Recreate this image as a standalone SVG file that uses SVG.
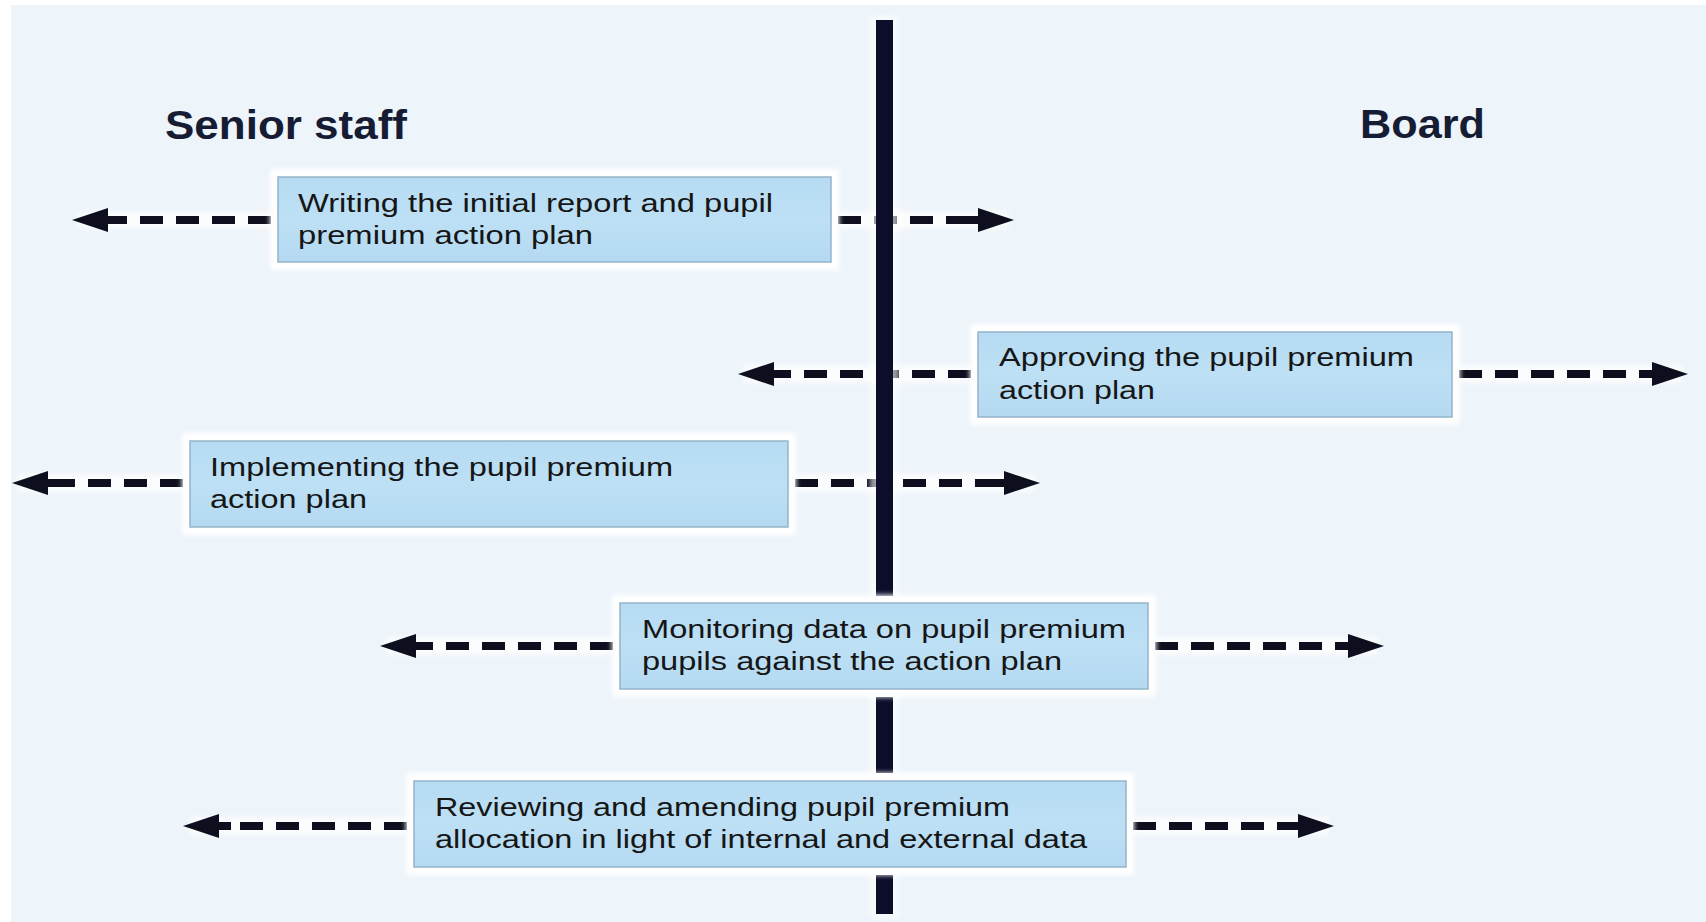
<svg xmlns="http://www.w3.org/2000/svg" xmlns:xlink="http://www.w3.org/1999/xlink" width="1706" height="922" viewBox="0 0 1706 922">
<style>
.title{font-family:"Liberation Sans",Arial,sans-serif;font-weight:bold;font-size:40px;fill:#161c33}
.lbl{font-family:"Liberation Sans",Arial,sans-serif;font-size:25px;fill:#161616}
.box{fill:url(#boxg);stroke:#95b4ca;stroke-width:1.5}
.halo{fill:#ffffff;filter:url(#soft)}
.dash{fill:none;stroke:#0d0f1e;stroke-width:8;stroke-dasharray:23 13}
.glow{fill:none;stroke:#ffffff;stroke-width:18;opacity:0.75;filter:url(#soft)}
.ah{fill:#0d0f1e}
.vline{fill:#0b0d2a}
.vglow{fill:#ffffff;opacity:0.6;filter:url(#soft)}
</style>
<defs>
<filter id="soft" x="-20%" y="-50%" width="140%" height="200%"><feGaussianBlur stdDeviation="2.5"/></filter>
<linearGradient id="boxg" x1="0" y1="0" x2="0" y2="1">
<stop offset="0" stop-color="#b6dbf2"/>
<stop offset="0.5" stop-color="#bde0f5"/>
<stop offset="1" stop-color="#b4d9f1"/>
</linearGradient>
<g id="ahR"><rect x="-48" y="-4" width="20" height="8" class="ah"/><polygon points="0,0 -36,-12 -36,12" class="ah"/></g>
</defs>
<rect width="1706" height="922" fill="#ffffff"/>
<rect x="11" y="5" width="1695" height="917" fill="#edf4fa"/>

<g id="titles">
<text class="title" x="165" y="139" textLength="242" lengthAdjust="spacingAndGlyphs">Senior staff</text>
<text class="title" x="1360" y="138" textLength="125" lengthAdjust="spacingAndGlyphs">Board</text>
</g>

<g id="connectors">
<path class="glow" d="M271 220H78M838 220H1008M971 374H744M1459 374H1682M183 483H18M795 483H1034M613 646H386M1155 646H1378M407 826H189M1133 826H1328"/>
<path class="dash" d="M271 220H118"/>
<use xlink:href="#ahR" transform="translate(72,220) scale(-1,1)"/>
<path class="dash" d="M838 220H968"/>
<use xlink:href="#ahR" transform="translate(1014,220)"/>
<path class="dash" d="M971 374H784"/>
<use xlink:href="#ahR" transform="translate(738,374) scale(-1,1)"/>
<path class="dash" d="M1459 374H1642"/>
<use xlink:href="#ahR" transform="translate(1688,374)"/>
<path class="dash" d="M183 483H58"/>
<use xlink:href="#ahR" transform="translate(12,483) scale(-1,1)"/>
<path class="dash" d="M795 483H994"/>
<use xlink:href="#ahR" transform="translate(1040,483)"/>
<path class="dash" d="M613 646H426"/>
<use xlink:href="#ahR" transform="translate(380,646) scale(-1,1)"/>
<path class="dash" d="M1155 646H1338"/>
<use xlink:href="#ahR" transform="translate(1384,646)"/>
<path class="dash" d="M407 826H229"/>
<use xlink:href="#ahR" transform="translate(183,826) scale(-1,1)"/>
<path class="dash" d="M1133 826H1288"/>
<use xlink:href="#ahR" transform="translate(1334,826)"/>
</g>

<g id="divider">
<rect class="vglow" x="870" y="16" width="29" height="584"/>
<rect class="vglow" x="870" y="693" width="29" height="84"/>
<rect class="vglow" x="870" y="871" width="29" height="47"/>
<rect class="vline" x="876" y="20" width="17" height="576"/>
<rect class="vline" x="876" y="697" width="17" height="76"/>
<rect class="vline" x="876" y="875" width="17" height="39"/>
</g>

<g id="node-writing">
<rect class="halo" x="270" y="169" width="569" height="101"/>
<rect class="box" x="278" y="177" width="553" height="85"/>
<text class="lbl" x="298" y="212" textLength="475" lengthAdjust="spacingAndGlyphs">Writing the initial report and pupil</text>
<text class="lbl" x="298" y="244" textLength="295" lengthAdjust="spacingAndGlyphs">premium action plan</text>
</g>

<g id="node-approving">
<rect class="halo" x="970" y="324" width="490" height="101"/>
<rect class="box" x="978" y="332" width="474" height="85"/>
<text class="lbl" x="999" y="366" textLength="415" lengthAdjust="spacingAndGlyphs">Approving the pupil premium</text>
<text class="lbl" x="999" y="399" textLength="156" lengthAdjust="spacingAndGlyphs">action plan</text>
</g>

<g id="node-implementing">
<rect class="halo" x="182" y="433" width="614" height="102"/>
<rect class="box" x="190" y="441" width="598" height="86"/>
<text class="lbl" x="210" y="476" textLength="463" lengthAdjust="spacingAndGlyphs">Implementing the pupil premium</text>
<text class="lbl" x="210" y="508" textLength="157" lengthAdjust="spacingAndGlyphs">action plan</text>
</g>

<g id="node-monitoring">
<rect class="halo" x="612" y="595" width="544" height="102"/>
<rect class="box" x="620" y="603" width="528" height="86"/>
<text class="lbl" x="642" y="638" textLength="484" lengthAdjust="spacingAndGlyphs">Monitoring data on pupil premium</text>
<text class="lbl" x="642" y="670" textLength="420" lengthAdjust="spacingAndGlyphs">pupils against the action plan</text>
</g>

<g id="node-reviewing">
<rect class="halo" x="406" y="773" width="728" height="102"/>
<rect class="box" x="414" y="781" width="712" height="86"/>
<text class="lbl" x="435" y="816" textLength="575" lengthAdjust="spacingAndGlyphs">Reviewing and amending pupil premium</text>
<text class="lbl" x="435" y="848" textLength="652" lengthAdjust="spacingAndGlyphs">allocation in light of internal and external data</text>
</g>
</svg>
